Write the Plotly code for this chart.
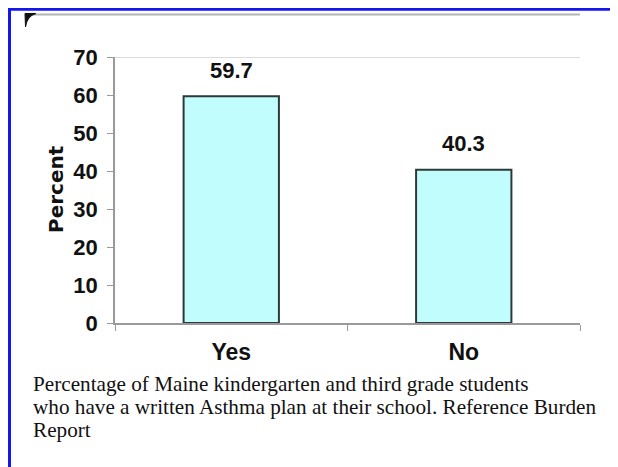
import plotly.graph_objects as go

categories = ["Yes", "No"]
percent = [59.7, 40.3]
y_ticks = [0, 10, 20, 30, 40, 50, 60, 70]
caption_lines = [
    "Percentage of Maine kindergarten and third grade students",
    "who have a written Asthma plan at their school. Reference Burden",
    "Report",
]

W, H = 618, 467
OFF = 8  # page body margin: screen pixel = figure pixel + 8


def px(x):
    return (x - OFF) / W


def py(y):
    return 1 - (y - OFF) / H


heavy = "Liberation Sans, Arial, sans-serif"
ink = "#111111"

fig = go.Figure()
fig.add_trace(go.Bar(
    x=categories, y=percent, width=0.41,
    marker=dict(color="#c2fdfd", line=dict(color="#2e3a3a", width=2)),
    hoverinfo="skip",
))

for c, v in zip(categories, percent):
    fig.add_annotation(x=c, y=v, xref="x", yref="y", text=f"{v:.1f}", showarrow=False,
                       yshift=26, font=dict(family=heavy, size=22, color=ink, weight="bold"),
                       xanchor="center", yanchor="middle")

# axis title
fig.add_annotation(x=px(56), y=py(189), xref="paper", yref="paper", text="Percent",
                   textangle=-90, showarrow=False, xanchor="center", yanchor="middle",
                   font=dict(family="DejaVu Sans", size=20, color=ink, weight="bold"))

# caption
for i, line in enumerate(caption_lines):
    fig.add_annotation(x=px(31), y=py(384 + 23 * i), xref="paper", yref="paper", text=line,
                       showarrow=False, xanchor="left", yanchor="middle", align="left",
                       font=dict(family="Liberation Serif, Times New Roman, serif", size=21.2, color=ink))

shapes = [
    # blue frame (top and left)
    dict(type="line", xref="paper", yref="paper", x0=0, x1=1.0, y0=1 - 1.2 / H, y1=1 - 1.2 / H,
         line=dict(color="#1515f0", width=3)),
    dict(type="line", xref="paper", yref="paper", x0=px(9.5), x1=px(9.5), y0=1, y1=0,
         line=dict(color="#1515f0", width=3)),
    # gray top rule of inner panel
    dict(type="line", xref="paper", yref="paper", x0=px(27), x1=px(580), y0=py(14.5), y1=py(14.5),
         line=dict(color="#b4b4b4", width=2)),
    # black corner
    dict(type="path", xref="paper", yref="paper",
         path=f"M {px(25)},{py(13.5)} L {px(36)},{py(13.5)} Q {px(27)},{py(16)} {px(25.5)},{py(27)} Z",
         fillcolor="#111", line=dict(color="#111", width=1)),
    # top gridline at 70
    dict(type="line", xref="x domain", yref="y", x0=0, x1=1, y0=70, y1=70,
         line=dict(color="#cfcfcf", width=1.5)),
]

fig.update_layout(
    width=W, height=H,
    margin=dict(l=0, r=0, t=0, b=0, pad=0, autoexpand=False),
    paper_bgcolor="white", plot_bgcolor="white",
    showlegend=False,
    shapes=shapes,
    xaxis=dict(domain=[px(115), px(580)], type="category", automargin=False,
               showline=True, linecolor="#9a9a9a", linewidth=1.5,
               ticks="outside", tickson="boundaries", ticklen=6, tickcolor="#9a9a9a",
               ticklabelstandoff=8,
               tickfont=dict(family=heavy, size=23, color=ink, weight="bold"),
               showgrid=False, zeroline=False),
    yaxis=dict(domain=[py(323), py(57)], range=[0, 70], automargin=False,
               tickvals=y_ticks, ticktext=[str(t) for t in y_ticks],
               showline=True, linecolor="#9a9a9a", linewidth=1.5,
               ticks="outside", ticklen=6, tickcolor="#9a9a9a",
               ticklabelstandoff=5,
               tickfont=dict(family=heavy, size=22, color=ink, weight="bold"),
               showgrid=False, zeroline=False),
)

fig.write_html("out.html")
